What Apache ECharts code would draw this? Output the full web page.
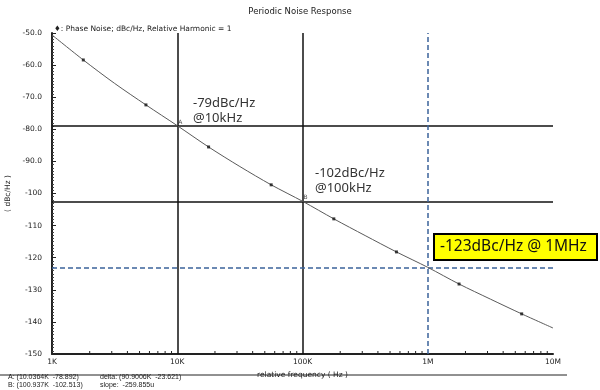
<!DOCTYPE html>
<html>
<head>
<meta charset="utf-8">
<script src="https://cdn.jsdelivr.net/npm/echarts@6/dist/echarts.min.js"></script>
<style>
  html, body { margin: 0; padding: 0; background: #fff; }
  #chart { width: 600px; height: 390px; }
</style>
</head>
<body>
<div id="chart"></div>
<script>
// Phase noise curve, relative frequency (Hz) vs dBc/Hz
const curveFreq = [1000, 1778, 3162, 5623, 10036, 17783, 31623, 56234, 100937, 177828, 316228, 562341, 1000000, 1778279, 3162278, 5623413, 10000000];
const curveDb   = [-50.6, -58.4, -65.7, -72.4, -78.9, -85.5, -91.6, -97.3, -102.5, -107.9, -113.1, -118.2, -123.0, -128.2, -132.9, -137.5, -141.9];

// Plotted symbol points along the curve
const markerFreq = [1778, 5623, 17783, 56234, 177828, 562341, 1778279, 5623413];
const markerDb   = [-58.4, -72.4, -85.5, -97.3, -107.9, -118.2, -128.2, -137.5];

// Cursor positions A and B, and the 1 MHz reference
const cursorFreq = [10000, 100000];
const cursorDb   = [-79, -102.5];
const refFreq = 1000000;
const refDb = -123;

// Axis settings
const xTickLabels = { 1000: '1K', 10000: '10K', 100000: '100K', 1000000: '1M', 10000000: '10M' };
const xMinorTicks = [];
[1e3, 1e4, 1e5, 1e6].forEach(function (d) {
  for (let k = 2; k <= 9; k++) xMinorTicks.push(d * k);
});

const chart = echarts.init(document.getElementById('chart'), null, { renderer: 'canvas' });

const smallFont = 'DejaVu Sans';

function yLabel(v) {
  return v > -100 ? v.toFixed(1) : String(v);
}

chart.setOption({
  animation: false,
  backgroundColor: '#ffffff',
  grid: { left: 52, right: 47, top: 33, bottom: 36, containLabel: false, outerBoundsMode: 'none' },
  xAxis: {
    type: 'log',
    logBase: 10,
    min: 1000,
    max: 10000000,
    axisLine: { show: true, onZero: false, lineStyle: { color: '#222', width: 2 } },
    axisTick: { show: false },
    splitLine: { show: false },
    axisLabel: {
      color: '#222', fontFamily: smallFont, fontSize: 7.5, margin: 4,
      formatter: function (v) { return xTickLabels[Math.round(v)] || ''; }
    },
    name: 'relative frequency ( Hz )',
    nameLocation: 'middle',
    nameGap: 15,
    nameTextStyle: { color: '#222', fontFamily: smallFont, fontSize: 7.5 }
  },
  yAxis: {
    type: 'value',
    min: -150,
    max: -50,
    interval: 10,
    axisLine: { show: true, onZero: false, lineStyle: { color: '#222', width: 2 } },
    axisTick: { show: true, inside: true, length: 4, lineStyle: { color: '#222' } },
    minorTick: { show: true, splitNumber: 10, length: 2, lineStyle: { color: '#444' } },
    splitLine: { show: false },
    axisLabel: { color: '#222', fontFamily: smallFont, fontSize: 7.5, margin: 10, formatter: yLabel },
    name: '( dBc/Hz )',
    nameLocation: 'middle',
    nameRotate: 90,
    nameGap: 36,
    nameTextStyle: { color: '#222', fontFamily: smallFont, fontSize: 7.5 }
  },
  series: [
    {
      name: 'Phase Noise',
      type: 'line',
      data: curveFreq.map(function (f, i) { return [f, curveDb[i]]; }),
      smooth: 0.3,
      showSymbol: false,
      lineStyle: { color: '#5a5a5a', width: 1 },
      z: 5,
      markLine: {
        silent: true,
        symbol: 'none',
        label: { show: false },
        data: [
          { xAxis: cursorFreq[0], lineStyle: { color: '#111', width: 1.5, type: 'solid' } },
          { xAxis: cursorFreq[1], lineStyle: { color: '#111', width: 1.5, type: 'solid' } },
          { yAxis: cursorDb[0], lineStyle: { color: '#111', width: 1.5, type: 'solid' } },
          { yAxis: cursorDb[1], lineStyle: { color: '#111', width: 1.5, type: 'solid' } },
          { xAxis: refFreq, lineStyle: { color: '#3b639b', width: 1.5, type: [5, 3] } },
          { yAxis: refDb, lineStyle: { color: '#3b639b', width: 1.5, type: [5, 3] } }
        ]
      }
    },
    {
      name: 'markers',
      type: 'scatter',
      data: markerFreq.map(function (f, i) { return [f, markerDb[i]]; }),
      symbol: 'rect',
      symbolSize: 3,
      itemStyle: { color: '#111' },
      z: 6
    },
    {
      name: 'cursors',
      type: 'scatter',
      data: [
        { value: [cursorFreq[0], cursorDb[0]], name: 'A' },
        { value: [cursorFreq[1], cursorDb[1]], name: 'B' }
      ],
      symbolSize: 0,
      label: {
        show: true, position: [1, -7], formatter: '{b}',
        color: '#222', fontFamily: smallFont, fontSize: 6
      },
      z: 6
    },
    {
      name: 'minorTicksX',
      type: 'custom',
      silent: true,
      data: xMinorTicks.map(function (f) { return [f, -150]; }),
      renderItem: function (params, api) {
        const p = api.coord([api.value(0), api.value(1)]);
        return {
          type: 'line',
          shape: { x1: p[0], y1: p[1], x2: p[0], y2: p[1] - 3 },
          style: { stroke: '#222', lineWidth: 1 }
        };
      },
      z: 4
    }
  ],
  graphic: [
    { type: 'text', left: 'center', top: 7,
      style: { text: 'Periodic Noise Response', fill: '#222', font: '8.5px "DejaVu Sans"' } },
    { type: 'text', left: 54, top: 25,
      style: { text: '\u2666: Phase Noise; dBc/Hz, Relative Harmonic = 1', fill: '#222', font: '7.5px "DejaVu Sans"' } },
    { type: 'text', left: 193, top: 96,
      style: { text: '-79dBc/Hz\n@10kHz', fill: '#333', font: '13px "Noto Sans"', lineHeight: 15 } },
    { type: 'text', left: 315, top: 166,
      style: { text: '-102dBc/Hz\n@100kHz', fill: '#333', font: '13px "Noto Sans"', lineHeight: 15 } },
    { type: 'rect', shape: { x: 434, y: 234, width: 163, height: 26 },
      style: { fill: '#ffff00', stroke: '#000', lineWidth: 2 } },
    { type: 'text', left: 440, top: 239,
      style: { text: '-123dBc/Hz @ 1MHz', fill: '#111', font: '15.5px "Noto Sans"' } },
    { type: 'line', shape: { x1: 0, y1: 375, x2: 567, y2: 375 },
      style: { stroke: '#222', lineWidth: 1 } },
    { type: 'text', left: 8, top: 373,
      style: { text: 'A: (10.0364K  -78.892)\nB: (100.937K  -102.513)', fill: '#222', font: '7px "Liberation Sans"', lineHeight: 8 } },
    { type: 'text', left: 100, top: 373,
      style: { text: 'delta: (90.9006K  -23.621)\nslope:  -259.855u', fill: '#222', font: '7px "Liberation Sans"', lineHeight: 8 } }
  ]
});
</script>
</body>
</html>
